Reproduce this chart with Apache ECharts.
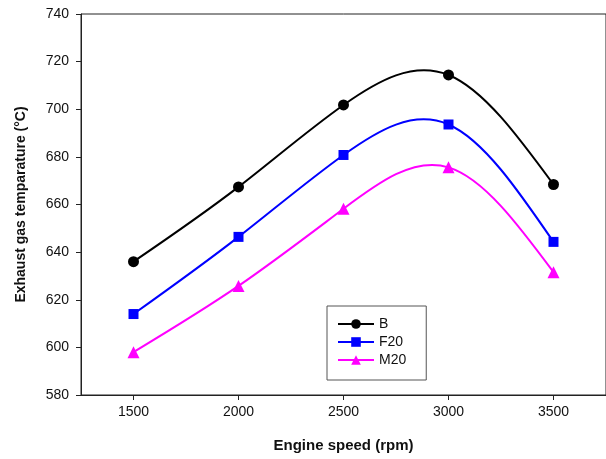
<!DOCTYPE html>
<html>
<head>
<meta charset="utf-8">
<script src="https://cdn.jsdelivr.net/npm/echarts@6/dist/echarts.min.js"></script>
<style>
  html, body { margin: 0; padding: 0; background: #fff; }
  #chart { width: 606px; height: 459px; }
</style>
</head>
<body>
<div id="chart"></div>
<script>
// engine speed (rpm)
var speeds = [1500, 2000, 2500, 3000, 3500];
// exhaust gas temperature (°C)
var seriesB = [636.0, 667.4, 701.8, 714.4, 668.4];
var seriesF20 = [614.0, 646.4, 680.8, 693.6, 644.3];
var seriesM20 = [598.0, 625.8, 658.2, 675.6, 631.6];
var xTicks = [1500, 2000, 2500, 3000, 3500];

function pairs(vals) {
    return speeds.map(function (s, i) { return [s, vals[i]]; });
}

// natural cubic spline through the pixel points, written as bezier segments
function splinePath(pts) {
    var n = pts.length;
    var h = [], m = new Array(n).fill(0);
    for (var i = 0; i < n - 1; i++) h.push(pts[i + 1][0] - pts[i][0]);
    // tridiagonal solve for second derivatives
    var a = [], b = [], c = [], d = [];
    for (var i = 1; i < n - 1; i++) {
        a.push(h[i - 1]);
        b.push(2 * (h[i - 1] + h[i]));
        c.push(h[i]);
        d.push(6 * ((pts[i + 1][1] - pts[i][1]) / h[i] - (pts[i][1] - pts[i - 1][1]) / h[i - 1]));
    }
    var k = b.length;
    for (var i = 1; i < k; i++) {
        var w = a[i] / b[i - 1];
        b[i] -= w * c[i - 1];
        d[i] -= w * d[i - 1];
    }
    var sol = new Array(k);
    for (var i = k - 1; i >= 0; i--) {
        sol[i] = (d[i] - (i < k - 1 ? c[i] * sol[i + 1] : 0)) / b[i];
    }
    for (var i = 0; i < k; i++) m[i + 1] = sol[i];

    var path = 'M' + pts[0][0] + ',' + pts[0][1];
    for (var i = 0; i < n - 1; i++) {
        var hi = h[i];
        var slope = (pts[i + 1][1] - pts[i][1]) / hi;
        var d0 = slope - hi * (2 * m[i] + m[i + 1]) / 6;
        var d1 = slope + hi * (m[i] + 2 * m[i + 1]) / 6;
        var c1x = pts[i][0] + hi / 3, c1y = pts[i][1] + d0 * hi / 3;
        var c2x = pts[i + 1][0] - hi / 3, c2y = pts[i + 1][1] - d1 * hi / 3;
        path += 'C' + c1x + ',' + c1y + ' ' + c2x + ',' + c2y + ' ' + pts[i + 1][0] + ',' + pts[i + 1][1];
    }
    return path;
}

function curveSeries(vals, color) {
    return {
        type: 'custom',
        coordinateSystem: 'cartesian2d',
        silent: true,
        z: 1,
        data: [[speeds[0], vals[0]]],
        renderItem: function (params, api) {
            var pts = speeds.map(function (s, i) { return api.coord([s, vals[i]]); });
            return {
                type: 'path',
                shape: { pathData: splinePath(pts) },
                style: { fill: 'none', stroke: color, lineWidth: 2 }
            };
        }
    };
}

var chart = echarts.init(document.getElementById('chart'));
var font = 'Liberation Sans, Arial, sans-serif';

function markers(name, vals, symbol, size, color) {
    return {
        name: name,
        type: 'line',
        z: 3,
        data: pairs(vals),
        symbol: symbol,
        symbolSize: size,
        color: color,
        itemStyle: { color: color },
        lineStyle: { width: 0, color: color }
    };
}

chart.setOption({
    animation: false,
    backgroundColor: '#fff',
    grid: {
        left: 81,
        right: -3,
        top: 14,
        bottom: 64,
        show: true,
        borderColor: '#222',
        borderWidth: 1,
        backgroundColor: 'transparent'
    },
    legend: {
        orient: 'vertical',
        left: 327,
        top: 306,
        padding: [11, 20, 13, 10],
        itemGap: 4,
        itemWidth: 36,
        itemHeight: 12,
        borderColor: '#555',
        borderWidth: 1,
        lineStyle: { width: 2, opacity: 1 },
        textStyle: { fontFamily: font, fontSize: 14, color: '#111' },
        data: ['B', 'F20', 'M20']
    },
    xAxis: {
        type: 'value',
        min: 1250,
        max: 3750,
        name: 'Engine speed (rpm)',
        nameLocation: 'middle',
        nameGap: 43,
        nameTextStyle: { fontFamily: font, fontSize: 15, fontWeight: 'bold', color: '#111' },
        axisLine: { onZero: false, lineStyle: { color: '#222', width: 1 } },
        axisTick: { show: true, length: 5, customValues: xTicks, lineStyle: { color: '#222' } },
        axisLabel: {
            customValues: xTicks, margin: 10, fontFamily: font, fontSize: 14, color: '#111',
            formatter: function (v) { return String(v); }
        },
        splitLine: { show: false }
    },
    yAxis: {
        type: 'value',
        min: 580,
        max: 740,
        interval: 20,
        name: 'Exhaust gas temparature (°C)',
        nameLocation: 'middle',
        nameGap: 53,
        nameTextStyle: { fontFamily: font, fontSize: 14, fontWeight: 'bold', color: '#111' },
        axisLine: { show: true, lineStyle: { color: '#222', width: 1 } },
        axisTick: { show: true, length: 5, lineStyle: { color: '#222' } },
        axisLabel: { margin: 12, fontFamily: font, fontSize: 14, color: '#111' },
        splitLine: { show: false }
    },
    series: [
        curveSeries(seriesB, '#000000'),
        curveSeries(seriesF20, '#0000ff'),
        curveSeries(seriesM20, '#ff00ff'),
        markers('B', seriesB, 'circle', 11, '#000000'),
        markers('F20', seriesF20, 'rect', 10, '#0000ff'),
        markers('M20', seriesM20, 'triangle', 12, '#ff00ff')
    ]
});
</script>
</body>
</html>
